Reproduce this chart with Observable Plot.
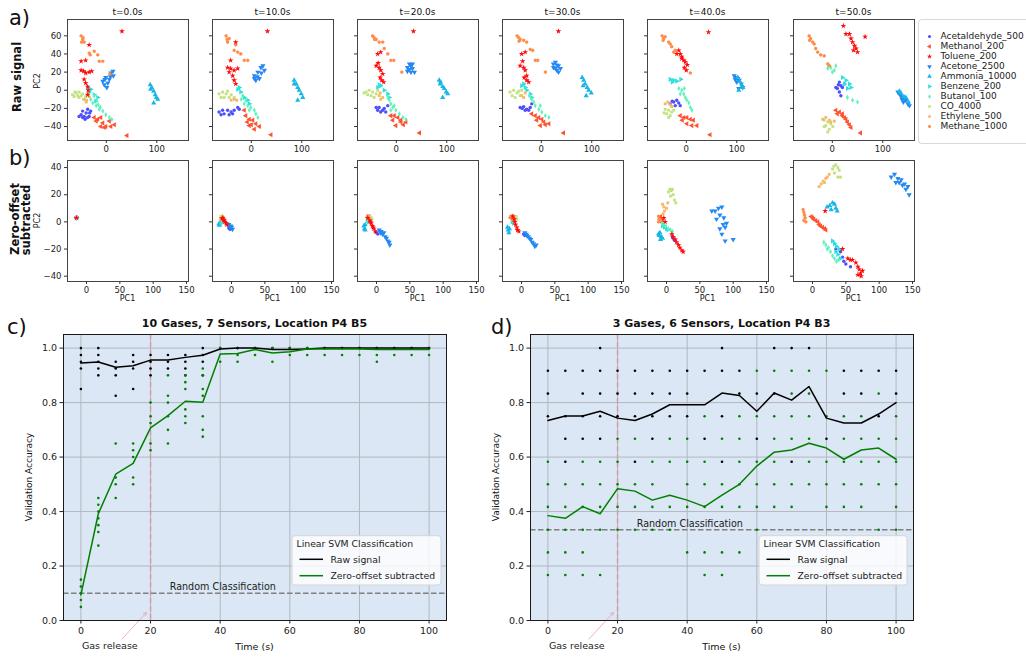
<!DOCTYPE html>
<html><head><meta charset="utf-8">
<script src="https://cdn.jsdelivr.net/npm/d3@7"></script>
<script src="https://cdn.jsdelivr.net/npm/@observablehq/plot@0.6"></script>
<style>
body{margin:0;background:#fff;}
#fig{position:relative;width:1026px;height:657px;overflow:hidden;background:#fff;font-family:"DejaVu Sans",sans-serif;}
</style></head><body><div id="fig"></div>
<script>
// ---------- categories ----------
const GASES = ["Acetaldehyde_500","Methanol_200","Toluene_200","Acetone_2500","Ammonia_10000","Benzene_200","Butanol_100","CO_4000","Ethylene_500","Methane_1000"];
const GAS_COLORS = ["#4d4ffc","#ff5230","#ff0a0a","#2388f2","#16b6e6","#2edfe0","#62f2bc","#c2e27e","#f5b868","#ff8c4a"];
const GAS_SYMBOLS = ["circle","triangle","star","triangle","triangle","triangle","diamond","square","square","hexagon"];
const GAS_ROTATE = [0,-90,0,180,0,90,0,0,0,0];
const SNAP_TITLES = ["t=0.0s","t=10.0s","t=20.0s","t=30.0s","t=40.0s","t=50.0s"];

// ---------- PCA scores, raw signal (x,y pairs per gas, legend order) ----------
const raw_t0 = [
"-50,-27 -47,-23 -44,-29 -40,-25 -37,-21 -34,-29 -31,-23 -47,-30 -37,-30 -54,-29 -42,-32 -33,-25",
"-24,-30 -17,-32 -11,-30 -7,-36 -1,-40 6,-34 -11,-40 9,-40 16,-38 -4,-41 -20,-34 41,-50",
"31,65 -34,50 -50,32 -41,33 -50,22 -45,21 -41,19 -34,20 -29,21 -44,12 -41,8 -37,4 -36,0 -37,-5",
"-7,10 -1,14 3,8 9,19 13,21 6,12 -4,6 1,3 14,16 8,15 -3,12",
"87,6 90,3 94,-1 97,-5 99,-8 102,-10 94,-14 88,1",
"-37,3 -31,1 -24,-5 -17,-8 -21,-12 -34,-2",
"-24,-6 -19,-10 -16,-16 -12,-19 -7,-23 -1,-27 6,-30 11,-32 -31,-10 -14,-21 -27,-14 -20,-17",
"-67,-5 -60,-3 -54,-2 -47,-4 -41,-7 -64,-7 -54,-8 -45,-10 -57,-6 -62,-2 -50,-6",
"-44,-10 -39,-11 -34,-7 -40,-13",
"-50,60 -47,56 -44,53 -49,53 -34,41 -32,39 -24,43 -17,39 -14,32 -7,32 7,18 -46,58"];
const raw_t10 = [
"-64,-24 -57,-22 -47,-22 -40,-24 -34,-22 -27,-19 -24,-21 -54,-26 -37,-26 -60,-27 -44,-27",
"-11,-28 -4,-32 3,-33 9,-37 -4,-39 16,-40 -14,-22 6,-43 -8,-35 0,-38 39,-49",
"32,65 -31,53 -47,25 -41,24 -34,22 -27,24 -37,16 -34,11 -31,7 -41,33 -44,20",
"6,16 13,20 19,25 23,27 16,13 9,11 26,22 6,13 12,15 20,19",
"85,11 89,7 92,3 95,0 99,-4 102,-8 92,-11 85,7",
"-27,1 -21,-2 -14,-8 -7,-11 -4,-15 -24,3",
"-17,-6 -11,-11 -7,-17 -1,-19 6,-22 9,-26 13,-30 -4,-22 -14,-15 -20,-10",
"-64,-4 -57,-2 -50,-4 -40,-5 -34,-8 -54,-8 -44,-8 -60,-8 -47,-1",
"-34,-10 -29,-11 -40,-11",
"-50,60 -44,57 -47,53 -34,44 -27,42 -21,40 -14,33 -7,33 -31,50 -48,56"];
const raw_t20 = [
"-40,-19 -34,-19 -27,-22 -21,-24 -37,-22 -24,-20 -17,-17 -31,-24",
"-11,-28 -4,-28 3,-30 -7,-33 9,-35 9,-33 19,-35 -1,-39 14,-38 46,-47",
"34,65 -37,40 -31,42 -40,27 -34,25 -31,22 -27,18 -29,11 -25,9 -32,14 -36,30",
"22,25 26,29 29,27 32,24 36,20 29,20 22,21 32,29 26,23",
"85,11 87,7 92,4 95,2 99,-2 102,-4 92,-8 88,9",
"-37,3 -31,5 -24,0 -17,-4 -14,-8 -34,6",
"-17,-8 -14,-11 -11,-15 -7,-19 -1,-22 6,-26 13,-30 19,-32 -11,-22 -4,-17",
"-60,-2 -54,0 -47,-2 -40,-4 -50,-6 -44,-8 -57,-5 -37,0 -64,-3",
"-34,-6 -27,-8 -31,-10 -32,-3",
"-47,60 -44,58 -40,56 -34,53 -27,53 -24,46 -17,40 -11,33 -5,33 11,20 -43,56"];
const raw_t30 = [
"-42,-19 -35,-18 -29,-21 -22,-19 -19,-15 -32,-22 -25,-22 -38,-20",
"-19,-26 -12,-28 -5,-30 1,-32 -9,-33 5,-35 -2,-39 15,-37 8,-38 44,-47",
"34,65 -39,40 -32,42 -42,27 -35,25 -32,22 -29,16 -29,11 -25,9 -34,14 -37,32",
"24,29 28,31 34,27 31,22 38,24 28,24 34,20 24,25 31,28",
"81,14 84,11 87,7 91,3 94,0 99,-3 89,-6 83,5",
"-39,5 -35,7 -29,0 -22,-4 -19,-8 -32,3",
"-19,-10 -15,-13 -12,-17 -5,-21 1,-24 8,-28 15,-30 -2,-17 -24,-6",
"-62,-2 -55,0 -48,-3 -42,-6 -52,-8 -58,-6 -39,0 -45,-1",
"-39,-6 -35,-8 -32,-3",
"-48,60 -45,58 -42,56 -35,55 -29,53 -22,45 -17,44 -12,33 -7,33 8,20 -44,54"];
const raw_t40 = [
"-32,-15 -25,-13 -19,-11 -15,-14 -12,-17 -22,-17 -28,-12",
"-12,-28 -5,-30 1,-30 8,-32 14,-33 1,-37 11,-39 21,-39 -8,-33 47,-49",
"44,64 -15,44 -12,40 -9,37 -5,33 -2,31 -4,25 0,22 -9,35 -19,40 2,28",
"95,16 99,14 102,13 105,11 109,7 112,3 104,2 100,9 97,12",
"102,14 106,10 110,6 112,3 104,0",
"-32,12 -25,11 -19,10 -11,12 -28,9",
"-15,2 -9,0 -5,-4 -2,-8 1,-11 8,-19 11,-22 -12,-4 -4,2 5,-14",
"-42,-21 -35,-22 -29,-24 -39,-26 -32,-28 -25,-22 -35,-30 -44,-25",
"-42,-15 -37,-13 -32,-16 -29,-18",
"-48,60 -45,57 -42,59 -35,53 -32,51 -29,48 -25,42 -22,44 8,19 -46,55"];
const raw_t50 = [
"14,9 17,5 10,2 14,-2 17,-6 20,3 24,7 7,3 12,6",
"7,-22 14,-24 20,-26 24,-30 27,-32 20,-28 30,-35 34,-38 37,-41 10,-26 56,-47",
"22,71 65,59 27,62 34,62 37,57 40,53 44,49 47,46 50,42 42,44",
"130,-2 133,-4 136,-6 140,-8 143,-10 146,-11 150,-15 153,-17 138,-10 141,-13",
"133,-1 136,-3 142,-7 146,-8 151,-13",
"20,14 27,11 34,7 37,3 30,2 24,7",
"-9,24 -3,25 4,22 7,27 40,-11 50,-13 30,-8 0,20",
"-16,-33 -9,-35 -3,-37 -13,-39 -6,-43 1,-40 -9,-46 -16,-40",
"-19,-32 -13,-30 -6,-33 4,-34 -3,-35",
"-46,60 -43,57 -39,53 -36,51 -33,46 -29,42 -23,39 -16,38 -9,29 -6,27 -45,55"];

// ---------- PCA scores, zero-offset subtracted ----------
const zero_t0 = ["-15,3","-15,3","-15,3","-15,3","-15,3","-15,3","-15,3","-15,3","-15,3","-15,3"];
const zero_t10 = [
"-4,-4.5 -2,-5.5 -3,-5","-15,3 -13,2 -11,1","-14,2.5 -12,1.5 -10,0 -8,-1 -7,-2 -11,1 -13,3",
"-7,-1.5 -5,-2.5 -3,-3.5 0,-4 1.5,-5.5 -1,-3 -4,-2","-19,-1.5 -18,-2.5 -17,-0.5","-16,0 -15,-1",
"-14,1 -13,0","-16,4 -14,4.5 -15,3.5","-16,2 -15,1.5","-15,2.5 -13,3.5"];
const zero_t20 = [
"0,-8 2,-9 -1,-7.5","-12,3 -10,2 -11,4","-13,3 -10,1 -8,-1 -6,-3 -4,-5 -2,-7 -9,0 -5,-4",
"4,-6 7,-7 9,-9 11,-8 13,-11 15,-12 17,-14 19,-15 20,-17 6,-8","-19,-3 -18,-5 -17,-6 -17,-2","-14,1 -12,0",
"-13,2 -11,0.5","-10,4 -8,3 -7,2","-12,2.5 -9,1.5","-14,3.5 -13,4.5"];
const zero_t30 = [
"3,-9 5,-10","-14,4 -12,2 -16,3","-13,4 -10,0 -9,-2 -7,-4 -6,-6 -4,-7 -11,2",
"5,-8 8,-10 10,-11 12,-12 14,-13 16,-15 18,-16 20,-18 22,-17 7,-9","-21,-4 -20,-6 -19,-8 -18,-5","-12,-1 -14,0",
"-13,1 -11,0","-9,3 -7,2 -8,4","-10,2 -12,3","-15,3 -13,4.5 -14,2 -16,4"];
const zero_t40 = [
"10,-12 12,-13.5 9,-11","-10,2 -8,0 -6,1.5 -9,4","8,-9 10,-11 13,-13 15,-15 18,-17 20,-19 23,-21 25,-22 -4,3 -2,0",
"68,8 73,8 78,10 80,5 83,11 85,-2 88,-4 90,-1 83,-9 88,-14 100,-13 75,2 80,-5 86,3",
"-12,-9 -10,-8 -8,-11 -6,-12 -9,-13 -11,-10","-6,-3 -3,-4 0,-5 2,-6","-7,-1 -4,-2 -1,-3 3,-5 6,-6 9,-7",
"3,22 5,24 7,23 10,20 12,16 14,14 6,19 9,24","-6,13 -4,11 -3,8 0,10 2,14 -5,6","-12,4 -11,2 -9,1 -12,0"];
const zero_t50 = [
"35,-20 42,-22 47,-29 50,-31 57,-33 45,-26","0,3 2,2 5,1 8,0 10,-2 12,-3 15,-4 18,-5 20,-6 -2,4",
"19,8 45,-20 53,-27 57,-28 60,-28 65,-30 68,-33 70,-35 72,-38 75,-36 73,-40 68,-39",
"118,33 123,35 128,32 130,29 133,31 135,27 138,28 140,24 143,26 145,20 125,29",
"22,11 26,12 30,14 33,13 35,10 37,8 28,9","30,-14 33,-16 36,-18 40,-20 38,-24 42,-27 35,-22",
"17,-15 20,-17 24,-19 27,-22 30,-25 33,-27 36,-29 39,-28 22,-20","30,39 32,41 35,42 38,40 40,38 33,36 38,33 42,33",
"10,26 13,28 16,30 20,32 22,33 25,35 18,29","-14,9 -13,7 -12,5 -11,3 -13,1 -10,0"];

const RAW_SNAPS = [raw_t0, raw_t10, raw_t20, raw_t30, raw_t40, raw_t50];
const ZERO_SNAPS = [zero_t0, zero_t10, zero_t20, zero_t30, zero_t40, zero_t50];
const ROW_A_XTICKS = [0, 100], ROW_A_YTICKS = [-40, -20, 0, 20, 40, 60];
const ROW_B_XTICKS = [0, 50, 100, 150], ROW_B_YTICKS = [-40, -20, 0, 20, 40];

// ---------- classification accuracy ----------
const TIMES = [0,5,10,15,20,25,30,35,40,45,50,55,60,65,70,75,80,85,90,95,100];
const ACC_XTICKS = [0,20,40,60,80,100];
const ACC_YTICKS = [0,0.2,0.4,0.6,0.8,1.0];
const GAS_RELEASE_T = 20;

const c_raw_mean = [0.945,0.949,0.930,0.935,0.956,0.956,0.966,0.974,0.997,1.0,1.0,0.995,0.995,0.997,1.0,1.0,1.0,1.0,1.0,1.0,1.0];
const c_zero_mean = [0.094,0.392,0.537,0.577,0.707,0.752,0.805,0.801,0.978,0.980,0.995,0.982,0.987,0.997,0.997,0.997,0.997,0.995,0.995,0.995,0.995];
const c_raw_runs = [[1,0.975,0.95,0.925,0.85],[1,0.975,0.95,0.925,0.9],[0.95,0.925,0.9,0.825],[0.975,0.95,0.925,0.85],
 [0.975,0.95,0.925,0.9],[0.975,0.95,0.925],[0.975,0.95,0.925,0.9],[1,0.975,0.95,0.9],[1],[1],[1],[1],[1],[1],[1],[1],[1],[1],[1],[1],[1]];
const c_zero_runs = [[0.15,0.125,0.1,0.075,0.05],[0.45,0.425,0.4,0.375,0.35,0.325,0.275],[0.65,0.525,0.5,0.45],[0.65,0.625,0.6,0.525,0.5],
 [0.8,0.75,0.725,0.65,0.625],[0.9,0.825,0.8,0.75,0.7,0.65],[0.9,0.875,0.85,0.775,0.75,0.725],[0.925,0.9,0.85,0.825,0.75,0.7,0.675],
 [1,0.95],[1,0.975,0.95],[1,0.975],[1,0.95],[1,0.975],[1,0.975],[1,0.975],[1,0.975],[1,0.975],[1,0.975,0.95],[1,0.975],[1,0.975],[1,0.975]];
const c_chance = 0.1;

const d_raw_mean = [0.734,0.751,0.751,0.768,0.743,0.734,0.758,0.792,0.792,0.792,0.835,0.826,0.768,0.835,0.809,0.859,0.743,0.725,0.725,0.758,0.80];
const d_zero_mean = [0.385,0.375,0.418,0.392,0.484,0.475,0.442,0.46,0.442,0.418,0.46,0.50,0.567,0.618,0.626,0.651,0.633,0.592,0.626,0.633,0.592];
const d_raw_runs = [[0.917,0.833,0.75],[0.917,0.75,0.667,0.583],[0.917,0.833,0.75,0.667],[1,0.917,0.833,0.75,0.667],[0.917,0.833,0.75],
 [0.917,0.833,0.75,0.583],[0.917,0.833,0.75,0.667],[0.917,0.833,0.75],[0.917,0.833,0.75],[0.917,0.667],[1,0.917,0.75,0.583],
 [0.917,0.833],[0.833,0.667],[1,0.833],[1,0.583],[1],[0.667],[0.917,0.833],[0.917,0.833],[0.917,0.75],[0.917,0.833]];
const d_zero_runs = [[0.583,0.5,0.417,0.333,0.25,0.167],[0.5,0.417,0.333,0.25,0.167],[0.583,0.5,0.417,0.333,0.25,0.167],[0.583,0.5,0.417,0.333,0.167],
 [0.667,0.583,0.5,0.417,0.333],[0.667,0.5,0.417,0.333],[0.583,0.5,0.417,0.333],[0.667,0.583,0.417,0.333],[0.667,0.583,0.5,0.417,0.25],
 [0.75,0.583,0.5,0.417,0.25,0.167],[0.667,0.5,0.417,0.25,0.167],[0.75,0.667,0.583,0.5,0.417,0.25],[0.917,0.75,0.583,0.5,0.417,0.333],
 [0.917,0.75,0.667,0.583,0.5,0.417],[0.917,0.833,0.75,0.667,0.5,0.417],[0.917,0.833,0.75,0.667,0.583,0.5],[0.917,0.75,0.583,0.5,0.417],
 [0.75,0.667,0.583,0.5,0.417],[0.75,0.667,0.583,0.5,0.417],[0.833,0.667,0.583,0.5,0.333],[0.75,0.667,0.583,0.5,0.417,0.333]];
const d_chance = 1/3;

// ---------- layout ----------
const FONT = "DejaVu Sans";
const fig = document.getElementById("fig");
const FRAME_X = [67, 212, 357, 502, 647, 793], FRAME = 121;
const ROW_A_TOP = 19, ROW_B_TOP = 160;
const SM = {l: 30, r: 4, t: 4, b: 16};
const markerR = i => GAS_SYMBOLS[i] === "star" ? 1.8 : GAS_SYMBOLS[i] === "triangle" ? 1.9 : GAS_SYMBOLS[i] === "circle" ? 1.7 : 1.6;

function place(el, left, top) {
  el.style.position = "absolute"; el.style.left = left + "px"; el.style.top = top + "px";
  fig.appendChild(el);
}
function parsePts(s) { return s.trim().split(/\s+/).map(p => p.split(",").map(Number)); }

function scatter(snap, xd, yd, xt, yt, showY) {
  const order = [0,1,3,4,5,6,7,8,9,2];
  const marks = [];
  for (const i of order) {
    marks.push(Plot.dot(parsePts(snap[i]), {x: d => d[0], y: d => d[1], r: markerR(i),
      fill: GAS_COLORS[i], symbol: GAS_SYMBOLS[i], rotate: GAS_ROTATE[i]}));
  }
  marks.push(Plot.frame({stroke: "#444", strokeWidth: 1}));
  marks.push(Plot.axisX({ticks: xt, tickSize: 3, tickPadding: 2, label: null, stroke: "#333"}));
  marks.push(Plot.axisY({ticks: yt, tickSize: 3, tickPadding: 3, label: null, stroke: "#333",
    tickFormat: showY ? undefined : () => ""}));
  return Plot.plot({
    width: SM.l + FRAME + SM.r, height: SM.t + FRAME + SM.b,
    marginLeft: SM.l, marginRight: SM.r, marginTop: SM.t, marginBottom: SM.b,
    x: {domain: xd}, y: {domain: yd},
    style: {fontFamily: FONT, fontSize: "8.5px", color: "#222", background: "transparent", overflow: "visible"},
    marks
  });
}

for (let i = 0; i < 6; i++) {
  place(scatter(RAW_SNAPS[i], [-77, 163], [-55.4, 78], ROW_A_XTICKS, ROW_A_YTICKS, i === 0), FRAME_X[i] - SM.l, ROW_A_TOP - SM.t);
  place(scatter(ZERO_SNAPS[i], [-28.5, 153], [-43.9, 45.2], ROW_B_XTICKS, ROW_B_YTICKS, i === 0), FRAME_X[i] - SM.l, ROW_B_TOP - SM.t);
}

// scatter legend
const legendPlot = Plot.plot({
  width: 108, height: 130, margin: 0,
  x: {domain: [0, 1], range: [11, 22], axis: null},
  y: {type: "point", domain: GASES, range: [7.3, 116.3], axis: null},
  style: {fontFamily: FONT, fontSize: "9px", background: "transparent", overflow: "visible"},
  marks: [
    ...GASES.map((g, i) => Plot.dot([g], {x: 0, y: d => d, r: markerR(i) * 0.9,
      fill: GAS_COLORS[i], symbol: GAS_SYMBOLS[i], rotate: GAS_ROTATE[i]})),
    Plot.text(GASES, {x: 1, y: d => d, text: d => d, textAnchor: "start", fill: "#222", fontSize: 9})
  ]
});
place(legendPlot, 918, 19);

// accuracy panels
const AM = {l: 40, r: 6, t: 5, b: 35}, AW = 383, AH = 286;
function accPanel(rawMean, zeroMean, rawRuns, zeroRuns, chance) {
  const rawDots = [], zeroDots = [];
  rawRuns.forEach((vals, i) => vals.forEach(v => rawDots.push({t: TIMES[i], v})));
  zeroRuns.forEach((vals, i) => vals.forEach(v => zeroDots.push({t: TIMES[i], v})));
  const rawLine = TIMES.map((t, i) => ({t, v: rawMean[i]}));
  const zeroLine = TIMES.map((t, i) => ({t, v: zeroMean[i]}));
  return Plot.plot({
    width: AM.l + AW + AM.r, height: AM.t + AH + AM.b,
    marginLeft: AM.l, marginRight: AM.r, marginTop: AM.t, marginBottom: AM.b,
    x: {domain: [-5, 105]}, y: {domain: [0, 1.05]},
    style: {fontFamily: FONT, fontSize: "9.5px", color: "#222", background: "transparent", overflow: "visible"},
    marks: [
      Plot.frame({fill: "#dbe7f4", stroke: null}),
      Plot.ruleX(ACC_XTICKS, {stroke: "#b3b7be", strokeWidth: 1}),
      Plot.ruleY(ACC_YTICKS, {stroke: "#b3b7be", strokeWidth: 1}),
      Plot.ruleX([GAS_RELEASE_T], {stroke: "#d39ca6", strokeWidth: 1.5, strokeDasharray: "5.5,2.5"}),
      Plot.ruleY([chance], {stroke: "#7f7f7f", strokeWidth: 1.5, strokeDasharray: "5.5,2.5"}),
      Plot.text(["Random Classification"], {x: 25.5, y: chance, dy: -3, text: d => d, textAnchor: "start",
        lineAnchor: "bottom", fontSize: 9.6, fill: "#222"}),
      Plot.dot(rawDots, {x: "t", y: "v", r: 1.3, fill: "#000"}),
      Plot.dot(zeroDots, {x: "t", y: "v", r: 1.3, fill: "#008000"}),
      Plot.line(rawLine, {x: "t", y: "v", stroke: "#000", strokeWidth: 1.5}),
      Plot.line(zeroLine, {x: "t", y: "v", stroke: "#008000", strokeWidth: 1.5}),
      Plot.arrow([0], {x1: 11.8, y1: -0.068, x2: 18.8, y2: 0.029, stroke: "#eaa0aa", strokeWidth: 0.8, headLength: 6}),
      Plot.text(["Gas release"], {x: 8.3, y: -0.093, text: d => d, fontSize: 9.5, fill: "#222"}),
      Plot.frame({stroke: "#1a1a1a"}),
      Plot.axisX({ticks: ACC_XTICKS, tickSize: 3.5, tickPadding: 3, label: null}),
      Plot.axisY({ticks: ACC_YTICKS, tickSize: 3.5, tickPadding: 3, tickFormat: d3.format(".1f"), label: null})
    ]
  });
}
place(accPanel(c_raw_mean, c_zero_mean, c_raw_runs, c_zero_runs, c_chance), 63 - AM.l, 334 - AM.t);
place(accPanel(d_raw_mean, d_zero_mean, d_raw_runs, d_zero_runs, d_chance), 530 - AM.l, 334 - AM.t);

// ---------- text overlay ----------
const ov = d3.select(fig).append("svg").attr("width", 1026).attr("height", 657)
  .style("position", "absolute").style("left", "0px").style("top", "0px").style("pointer-events", "none");
function txt(s, x, y, size, o = {}) {
  ov.append("text").attr("transform", `translate(${x},${y}) rotate(${o.rotate || 0})`)
    .attr("text-anchor", o.anchor || "start").attr("font-family", FONT).attr("font-size", size)
    .attr("font-weight", o.weight || "normal").attr("fill", o.fill || "#111").text(s);
}
txt("a)", 9, 25, 21); txt("b)", 9, 165, 21); txt("c)", 7, 334, 21); txt("d)", 491, 334, 21);
txt("Raw signal", 21, 77, 11.5, {weight: "bold", rotate: -90, anchor: "middle"});
txt("Zero-offset", 19, 219, 11.5, {weight: "bold", rotate: -90, anchor: "middle"});
txt("subtracted", 29.5, 220, 11.5, {weight: "bold", rotate: -90, anchor: "middle"});
txt("PC2", 39.5, 81, 8, {rotate: -90, anchor: "middle"});
txt("PC2", 39.5, 220.5, 8, {rotate: -90, anchor: "middle"});
for (let i = 0; i < 6; i++) {
  const cx = FRAME_X[i] + FRAME / 2;
  txt(SNAP_TITLES[i], cx, 15, 9, {anchor: "middle"});
  txt("PC1", cx, 301, 8, {anchor: "middle"});
}
ov.append("rect").attr("x", 918.5).attr("y", 19.5).attr("width", 130).attr("height", 124).attr("rx", 3)
  .attr("fill", "none").attr("stroke", "#d9d9d9");

const accCfg = [
  {fx: 63, title: "10 Gases, 7 Sensors, Location P4 B5", lx: 292, lw: 149},
  {fx: 530, title: "3 Gases, 6 Sensors, Location P4 B3", lx: 759, lw: 148}
];
for (const c of accCfg) {
  const cx = c.fx + AW / 2;
  txt(c.title, cx, 327, 11, {weight: "bold", anchor: "middle"});
  txt("Validation Accuracy", c.fx - 31.5, 477, 9, {rotate: -90, anchor: "middle"});
  txt("Time (s)", cx, 650, 9.5, {anchor: "middle"});
  ov.append("rect").attr("x", c.lx).attr("y", 535.7).attr("width", c.lw).attr("height", 49.3).attr("rx", 3)
    .attr("fill", "rgba(255,255,255,0.8)").attr("stroke", "#d6d6d6");
  txt("Linear SVM Classification", c.lx + 4.5, 546.6, 9.3, {fill: "#222"});
  ov.append("line").attr("x1", c.lx + 7.5).attr("x2", c.lx + 31).attr("y1", 559.3).attr("y2", 559.3).attr("stroke", "#000").attr("stroke-width", 1.5);
  ov.append("line").attr("x1", c.lx + 7.5).attr("x2", c.lx + 31).attr("y1", 575.7).attr("y2", 575.7).attr("stroke", "#008000").attr("stroke-width", 1.5);
  txt("Raw signal", c.lx + 38.5, 562.6, 9.3, {fill: "#222"});
  txt("Zero-offset subtracted", c.lx + 38.5, 579, 9.3, {fill: "#222"});
}
</script></body></html>
